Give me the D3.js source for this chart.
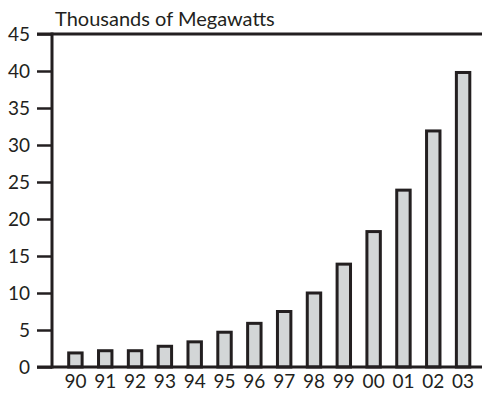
<!DOCTYPE html>
<html>
<head>
<meta charset="utf-8">
<script src="https://cdn.jsdelivr.net/npm/d3@7"></script>
<style>
  html, body { margin: 0; padding: 0; background: #fff; }
  svg { display: block; }
  text { font-family: "Lato", "Open Sans", sans-serif; fill: #231f20; }
</style>
</head>
<body>
<script>
// Installed wind capacity by year, in thousands of megawatts
const years = ["90", "91", "92", "93", "94", "95", "96", "97", "98", "99", "00", "01", "02", "03"];
const capacity = [1.9, 2.2, 2.2, 2.8, 3.4, 4.7, 5.9, 7.5, 10.0, 13.9, 18.3, 23.9, 31.9, 39.8];
const yTicks = [0, 5, 10, 15, 20, 25, 30, 35, 40, 45];
const unitLabel = "Thousands of Megawatts";

const W = 482, H = 393;
const axisX = 52, plotTop = 34, plotBottom = 367;
const ink = "#231f20";

const svg = d3.select("body").append("svg")
  .attr("width", W).attr("height", H);

const x = d3.scaleBand()
  .domain(years)
  .range([60.5, 478])
  .paddingInner(0.55)
  .paddingOuter(0.275);

const y = d3.scaleLinear()
  .domain([0, 45])
  .range([plotBottom, plotTop]);

// bars
svg.append("g").selectAll("rect")
  .data(years.map((yr, i) => ({ yr, v: capacity[i] })))
  .join("rect")
  .attr("x", d => x(d.yr))
  .attr("width", x.bandwidth())
  .attr("y", d => y(d.v))
  .attr("height", d => y(0) - y(d.v))
  .attr("fill", "#d3d6d7")
  .attr("stroke", ink)
  .attr("stroke-width", 3);

// left axis with ticks and labels
const yAxis = d3.axisLeft(y)
  .tickValues(yTicks)
  .tickSize(15)
  .tickPadding(7)
  .tickFormat(d3.format("d"));

const gy = svg.append("g")
  .attr("transform", `translate(${axisX},0)`)
  .call(yAxis);
gy.select(".domain").remove();
gy.selectAll(".tick line").attr("stroke", ink).attr("stroke-width", 2.5);
gy.selectAll(".tick text")
  .attr("font-size", 19)
  .attr("dy", "0.36em")
  .style("font-family", "Lato, sans-serif")
  .attr("fill", ink);

// frame: left spine, top rule and baseline
svg.append("line")
  .attr("x1", axisX).attr("x2", axisX)
  .attr("y1", plotTop - 1.5).attr("y2", plotBottom + 1.5)
  .attr("stroke", ink).attr("stroke-width", 3);
svg.append("line")
  .attr("x1", axisX - 15).attr("x2", W)
  .attr("y1", plotTop).attr("y2", plotTop)
  .attr("stroke", ink).attr("stroke-width", 3);
svg.append("line")
  .attr("x1", axisX - 15).attr("x2", W)
  .attr("y1", plotBottom).attr("y2", plotBottom)
  .attr("stroke", ink).attr("stroke-width", 3);

// category labels
const xAxis = d3.axisBottom(x).tickSize(0).tickPadding(8);
const gx = svg.append("g")
  .attr("transform", `translate(0,${plotBottom})`)
  .call(xAxis);
gx.select(".domain").remove();
gx.selectAll(".tick text")
  .attr("font-size", 19)
  .style("font-family", "Lato, sans-serif")
  .attr("fill", ink);

// unit label
svg.append("text")
  .attr("x", 55)
  .attr("y", 26)
  .attr("font-size", 20)
  .text(unitLabel);
</script>
</body>
</html>
